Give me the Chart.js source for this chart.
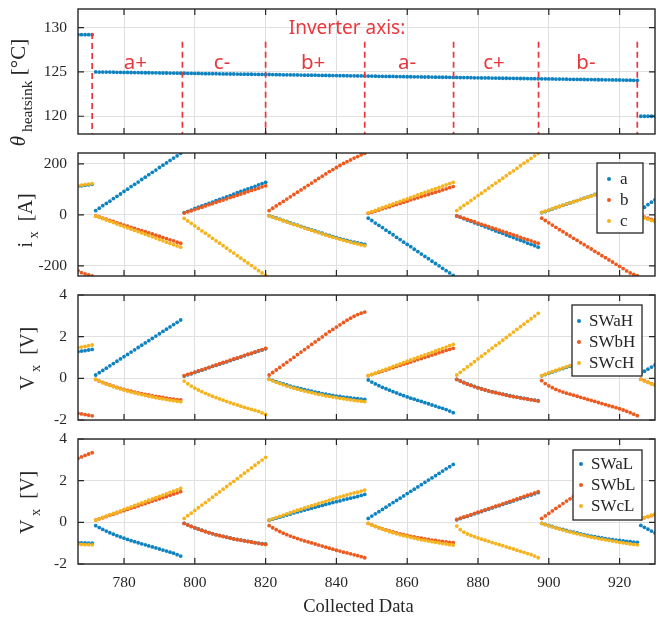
<!DOCTYPE html>
<html><head><meta charset="utf-8">
<script src="https://cdn.jsdelivr.net/npm/chart.js@4.4.0/dist/chart.umd.min.js"></script>
<style>
html,body{margin:0;padding:0;background:#fff;}
#wrap{position:relative;width:660px;height:620px;overflow:hidden;background:#fff;}
#wrap canvas{position:absolute;left:0;}
</style></head><body>
<div id="wrap">
<canvas id="c1" width="660" height="152" style="top:0px"></canvas>
<canvas id="c2" width="660" height="143" style="top:143px"></canvas>
<canvas id="c3" width="660" height="145" style="top:285px"></canvas>
<canvas id="c4" width="660" height="191" style="top:429px"></canvas>
</div>
<script>
// ---------------- DATA ----------------
const xStart = 767, xEnd = 930;
const collected = Array.from({length: xEnd - xStart + 1}, (_, i) => xStart + i);
const xTicks = [780, 800, 820, 840, 860, 880, 900, 920];
const tempTicks = [120, 125, 130];
const currentTicks = [-200, 0, 200];
const voltTicks = [-2, 0, 2, 4];

// inverter switching instants (dashed lines) and sector names
const switchX = [771, 796.5, 820, 848, 873.1, 897.1, 925];
const sectorNames = ['a+', 'c-', 'b+', 'a-', 'c+', 'b-'];

const phaseNames = ['a', 'b', 'c'];
const highNames = ['SWaH', 'SWbH', 'SWcH'];
const lowNames = ['SWaL', 'SWbL', 'SWcL'];

const tempHeatsink = [
 129.2,129.2,129.2,129.2,129.2,
 125.00,124.99,124.99,124.98,124.98,124.97,124.96,124.96,124.95,124.95,124.94,124.93,124.93,124.92,124.91,124.91,124.90,124.90,124.89,124.88,124.88,124.87,124.87,124.86,124.85,
 124.85,124.84,124.84,124.83,124.83,124.82,124.81,124.81,124.80,124.80,124.79,124.78,124.78,124.77,124.77,124.76,124.75,124.75,124.74,124.74,124.73,124.72,124.72,124.71,
 124.71,124.70,124.69,124.69,124.68,124.68,124.67,124.66,124.66,124.65,124.64,124.64,124.63,124.63,124.62,124.61,124.61,124.60,124.59,124.59,124.58,124.58,124.57,124.56,124.56,124.55,124.55,124.54,
 124.53,124.53,124.52,124.51,124.51,124.50,124.50,124.49,124.48,124.48,124.47,124.46,124.46,124.45,124.45,124.44,124.43,124.43,124.42,124.41,124.41,124.40,124.40,124.39,124.38,
 124.38,124.37,124.36,124.36,124.35,124.34,124.34,124.33,124.33,124.32,124.31,124.31,124.30,124.29,124.29,124.28,124.28,124.27,124.26,124.26,124.25,124.24,124.24,124.23,
 124.22,124.22,124.21,124.21,124.20,124.19,124.19,124.18,124.17,124.17,124.16,124.16,124.15,124.14,124.14,124.13,124.12,124.12,124.11,124.11,124.10,124.09,124.09,124.08,124.07,124.07,124.06,124.06,
 120.0,120.0,120.0,120.0,120.0
];

const currentA = [
 112,114,116,118,120,
 17,26,36,45,54,64,73,82,92,101,111,120,129,139,148,158,167,176,186,195,204,214,223,232,242,
 9,14,19,25,30,35,40,45,50,56,61,66,71,76,81,87,92,97,102,107,112,118,123,128,
 -3,-8,-12,-17,-22,-26,-31,-36,-40,-45,-50,-54,-59,-63,-68,-72,-77,-81,-85,-89,-93,-97,-100,-104,-107,-110,-113,-116,
 -13,-22,-32,-41,-50,-60,-69,-78,-88,-97,-107,-116,-125,-135,-144,-154,-163,-172,-182,-191,-200,-210,-219,-228,-238,
 -4,-9,-15,-20,-25,-31,-36,-41,-47,-52,-57,-63,-68,-73,-79,-84,-89,-95,-100,-105,-111,-116,-121,-127,
 9,13,18,23,28,33,37,42,47,52,56,61,66,70,75,80,84,89,93,98,102,107,111,116,120,124,128,132,
 20,30,40,50,59
];
const currentB = [
 -219,-227,-232,-236,-240,
 -4,-8,-13,-17,-22,-26,-31,-35,-40,-44,-49,-53,-58,-62,-66,-71,-75,-80,-84,-89,-93,-98,-102,-107,-111,
 7,12,16,21,26,30,35,40,44,49,54,58,63,68,72,77,82,86,91,96,100,105,110,114,
 17,26,35,44,53,62,71,80,89,98,107,116,125,134,143,152,161,170,178,186,194,202,209,216,223,229,236,242,
 6,10,15,19,24,28,32,37,41,45,50,54,59,63,67,72,76,80,85,89,93,98,102,107,111,
 -4,-9,-13,-18,-23,-27,-32,-37,-41,-46,-51,-55,-60,-65,-69,-74,-79,-83,-88,-93,-97,-102,-107,-111,
 -13,-22,-31,-40,-49,-58,-66,-75,-83,-92,-100,-109,-117,-126,-134,-143,-151,-160,-168,-177,-185,-194,-202,-211,-220,-228,-234,-239,
 -4,-9,-13,-18,-22
];
const currentC = [
 115,117,119,121,123,
 -5,-10,-15,-20,-25,-30,-36,-41,-46,-51,-56,-61,-66,-71,-76,-81,-86,-91,-97,-102,-107,-112,-117,-122,-127,
 -14,-24,-33,-43,-53,-63,-72,-82,-92,-102,-111,-121,-131,-141,-150,-160,-170,-180,-189,-199,-209,-219,-228,-238,
 -4,-9,-14,-18,-23,-28,-33,-38,-42,-47,-52,-56,-61,-66,-70,-75,-79,-84,-88,-92,-96,-100,-104,-107,-111,-114,-118,-121,
 8,13,18,23,28,33,38,43,48,53,58,63,68,73,78,83,88,93,98,103,108,113,118,123,128,
 17,27,37,46,56,66,76,85,95,105,115,125,134,144,154,164,173,183,193,203,212,222,232,242,
 10,15,19,24,29,33,38,43,47,52,56,61,65,70,74,79,83,87,91,95,99,103,107,111,114,117,120,123,
 -7,-12,-17,-22,-27
];

const voltAH = [
 1.28,1.31,1.33,1.36,1.39,
 0.16,0.27,0.38,0.49,0.60,0.71,0.82,0.93,1.04,1.15,1.26,1.37,1.48,1.59,1.70,1.81,1.92,2.03,2.14,2.25,2.36,2.47,2.58,2.69,2.80,
 0.11,0.17,0.22,0.28,0.34,0.39,0.45,0.51,0.57,0.62,0.68,0.74,0.79,0.85,0.91,0.96,1.02,1.08,1.14,1.19,1.25,1.31,1.36,1.42,
 -0.04,-0.10,-0.16,-0.22,-0.27,-0.32,-0.37,-0.42,-0.46,-0.50,-0.54,-0.58,-0.62,-0.66,-0.69,-0.73,-0.76,-0.79,-0.82,-0.85,-0.87,-0.90,-0.92,-0.94,-0.96,-0.98,-1.00,-1.01,
 -0.08,-0.18,-0.27,-0.35,-0.43,-0.50,-0.57,-0.64,-0.70,-0.77,-0.83,-0.89,-0.95,-1.00,-1.06,-1.11,-1.17,-1.22,-1.28,-1.33,-1.39,-1.44,-1.50,-1.57,-1.65,
 -0.05,-0.12,-0.20,-0.27,-0.33,-0.39,-0.45,-0.50,-0.55,-0.60,-0.64,-0.68,-0.72,-0.76,-0.80,-0.83,-0.87,-0.90,-0.93,-0.96,-0.99,-1.02,-1.05,-1.07,
 0.12,0.18,0.24,0.30,0.36,0.42,0.47,0.53,0.58,0.63,0.68,0.73,0.78,0.82,0.87,0.91,0.96,1.00,1.04,1.08,1.12,1.16,1.20,1.23,1.27,1.31,1.34,1.38,
 0.24,0.34,0.44,0.54,0.64
];
const voltBH = [
 -1.68,-1.71,-1.74,-1.77,-1.80,
 -0.05,-0.13,-0.20,-0.26,-0.32,-0.38,-0.43,-0.48,-0.53,-0.58,-0.62,-0.66,-0.70,-0.74,-0.77,-0.80,-0.84,-0.87,-0.89,-0.92,-0.95,-0.97,-1.00,-1.02,-1.04,
 0.13,0.19,0.24,0.30,0.36,0.41,0.47,0.53,0.59,0.64,0.70,0.76,0.81,0.87,0.93,0.98,1.04,1.10,1.16,1.21,1.27,1.33,1.38,1.44,
 0.16,0.28,0.40,0.52,0.65,0.77,0.89,1.01,1.14,1.26,1.38,1.50,1.63,1.75,1.87,1.99,2.12,2.24,2.35,2.46,2.57,2.68,2.79,2.89,2.98,3.06,3.13,3.18,
 0.13,0.18,0.24,0.29,0.35,0.40,0.46,0.51,0.57,0.62,0.68,0.73,0.79,0.84,0.90,0.95,1.01,1.06,1.12,1.17,1.23,1.28,1.34,1.39,1.44,
 -0.05,-0.13,-0.21,-0.28,-0.34,-0.40,-0.46,-0.51,-0.56,-0.61,-0.65,-0.69,-0.73,-0.77,-0.81,-0.85,-0.88,-0.91,-0.94,-0.97,-1.00,-1.03,-1.06,-1.09,
 -0.11,-0.25,-0.36,-0.45,-0.53,-0.60,-0.66,-0.71,-0.76,-0.81,-0.86,-0.91,-0.96,-1.01,-1.06,-1.11,-1.16,-1.21,-1.26,-1.31,-1.36,-1.41,-1.46,-1.52,-1.58,-1.65,-1.72,-1.79,
 -0.04,-0.11,-0.18,-0.25,-0.31
];
const voltCH = [
 1.47,1.50,1.53,1.57,1.60,
 -0.05,-0.13,-0.21,-0.28,-0.34,-0.40,-0.46,-0.51,-0.56,-0.61,-0.66,-0.70,-0.74,-0.78,-0.82,-0.86,-0.89,-0.93,-0.96,-0.99,-1.02,-1.05,-1.07,-1.10,-1.12,
 -0.13,-0.26,-0.37,-0.47,-0.56,-0.64,-0.72,-0.79,-0.86,-0.93,-0.99,-1.05,-1.11,-1.17,-1.23,-1.28,-1.34,-1.39,-1.44,-1.49,-1.54,-1.59,-1.66,-1.73,
 -0.05,-0.12,-0.19,-0.25,-0.31,-0.37,-0.42,-0.47,-0.52,-0.57,-0.61,-0.65,-0.69,-0.73,-0.77,-0.80,-0.84,-0.87,-0.90,-0.93,-0.96,-0.98,-1.01,-1.03,-1.06,-1.08,-1.10,-1.12,
 0.13,0.19,0.25,0.32,0.38,0.44,0.50,0.57,0.63,0.69,0.75,0.82,0.88,0.94,1.00,1.07,1.13,1.19,1.25,1.32,1.38,1.44,1.50,1.57,1.63,
 0.16,0.29,0.42,0.55,0.67,0.80,0.93,1.06,1.19,1.32,1.45,1.58,1.70,1.83,1.96,2.09,2.22,2.35,2.48,2.60,2.73,2.86,2.99,3.12,
 0.13,0.20,0.26,0.32,0.38,0.44,0.50,0.56,0.61,0.66,0.71,0.76,0.81,0.86,0.91,0.96,1.00,1.05,1.09,1.13,1.17,1.21,1.25,1.29,1.33,1.37,1.41,1.45,
 -0.05,-0.13,-0.20,-0.27,-0.33
];

const voltAL = [
 -0.98,-0.99,-0.99,-1.00,-1.00,
 -0.16,-0.25,-0.34,-0.42,-0.50,-0.57,-0.64,-0.70,-0.76,-0.82,-0.88,-0.93,-0.98,-1.03,-1.08,-1.13,-1.18,-1.23,-1.28,-1.33,-1.38,-1.43,-1.48,-1.55,-1.62,
 -0.05,-0.12,-0.19,-0.26,-0.32,-0.38,-0.44,-0.49,-0.54,-0.59,-0.63,-0.67,-0.71,-0.75,-0.79,-0.82,-0.85,-0.88,-0.91,-0.94,-0.97,-1.00,-1.02,-1.04,
 0.10,0.15,0.20,0.25,0.30,0.35,0.40,0.45,0.50,0.54,0.59,0.63,0.68,0.72,0.77,0.81,0.86,0.90,0.95,0.99,1.03,1.08,1.12,1.16,1.20,1.24,1.29,1.34,
 0.19,0.30,0.41,0.51,0.62,0.73,0.84,0.95,1.05,1.16,1.27,1.38,1.49,1.59,1.70,1.81,1.92,2.03,2.13,2.24,2.35,2.46,2.57,2.67,2.78,
 0.12,0.18,0.24,0.29,0.35,0.41,0.46,0.52,0.58,0.63,0.69,0.75,0.80,0.86,0.92,0.97,1.03,1.09,1.14,1.20,1.26,1.31,1.37,1.43,
 -0.05,-0.10,-0.15,-0.20,-0.25,-0.30,-0.34,-0.39,-0.43,-0.47,-0.51,-0.55,-0.59,-0.63,-0.66,-0.69,-0.72,-0.75,-0.78,-0.81,-0.83,-0.85,-0.87,-0.89,-0.91,-0.93,-0.95,-0.96,
 -0.15,-0.24,-0.33,-0.42,-0.51
];
const voltBL = [
 3.07,3.14,3.21,3.28,3.34,
 0.11,0.17,0.22,0.28,0.34,0.39,0.45,0.51,0.56,0.62,0.68,0.73,0.79,0.85,0.90,0.96,1.02,1.07,1.13,1.19,1.24,1.30,1.36,1.41,1.47,
 -0.05,-0.13,-0.20,-0.27,-0.33,-0.39,-0.45,-0.50,-0.55,-0.60,-0.64,-0.68,-0.72,-0.76,-0.80,-0.83,-0.86,-0.89,-0.92,-0.95,-0.98,-1.01,-1.04,-1.06,
 -0.16,-0.26,-0.35,-0.44,-0.52,-0.59,-0.66,-0.72,-0.78,-0.84,-0.89,-0.94,-0.99,-1.04,-1.09,-1.14,-1.19,-1.24,-1.29,-1.34,-1.38,-1.43,-1.47,-1.51,-1.56,-1.60,-1.65,-1.70,
 -0.05,-0.12,-0.19,-0.25,-0.31,-0.36,-0.41,-0.46,-0.51,-0.55,-0.59,-0.63,-0.67,-0.70,-0.73,-0.76,-0.79,-0.82,-0.85,-0.87,-0.90,-0.92,-0.94,-0.96,-0.98,
 0.14,0.20,0.26,0.31,0.37,0.43,0.49,0.54,0.60,0.66,0.72,0.78,0.83,0.89,0.95,1.01,1.06,1.12,1.18,1.24,1.30,1.35,1.41,1.47,
 0.19,0.31,0.43,0.55,0.67,0.78,0.90,1.02,1.13,1.25,1.36,1.48,1.59,1.70,1.81,1.92,2.03,2.14,2.25,2.36,2.47,2.57,2.67,2.77,2.87,2.96,3.05,3.14,
 0.17,0.22,0.27,0.32,0.37
];
const voltCL = [
 -1.05,-1.06,-1.07,-1.07,-1.08,
 0.11,0.17,0.24,0.30,0.36,0.43,0.49,0.55,0.62,0.68,0.74,0.81,0.87,0.93,0.99,1.06,1.12,1.18,1.25,1.31,1.37,1.44,1.50,1.56,1.63,
 0.19,0.32,0.44,0.57,0.70,0.83,0.95,1.08,1.21,1.34,1.46,1.59,1.72,1.85,1.97,2.10,2.23,2.36,2.48,2.61,2.74,2.87,2.99,3.12,
 0.11,0.17,0.23,0.29,0.35,0.41,0.46,0.52,0.58,0.63,0.69,0.74,0.80,0.85,0.91,0.96,1.01,1.07,1.12,1.17,1.22,1.27,1.32,1.37,1.41,1.45,1.50,1.55,
 -0.05,-0.13,-0.20,-0.27,-0.33,-0.39,-0.45,-0.50,-0.55,-0.60,-0.64,-0.68,-0.72,-0.76,-0.80,-0.84,-0.87,-0.90,-0.93,-0.96,-0.99,-1.02,-1.04,-1.07,-1.09,
 -0.18,-0.35,-0.47,-0.56,-0.63,-0.69,-0.75,-0.81,-0.86,-0.91,-0.97,-1.02,-1.07,-1.12,-1.18,-1.23,-1.28,-1.34,-1.39,-1.44,-1.50,-1.55,-1.62,-1.70,
 -0.05,-0.11,-0.17,-0.22,-0.27,-0.32,-0.37,-0.42,-0.46,-0.51,-0.55,-0.59,-0.63,-0.67,-0.71,-0.74,-0.78,-0.81,-0.84,-0.87,-0.90,-0.93,-0.96,-0.99,-1.01,-1.04,-1.06,-1.08,
 0.18,0.23,0.29,0.34,0.40
];

// ---------------- STYLE ----------------
const BLUE = '#0f82c0', ORANGE = '#ec5a1f', YELLOW = '#f5b41f';
const INK = '#262626', GRID = '#e0e0e0', RED = '#e8373d';
const SERIF = '"Liberation Serif", "Times New Roman", serif';
Chart.defaults.font.family = SERIF;
Chart.defaults.color = INK;

[tempHeatsink, currentA, currentB, currentC, voltAH, voltBH, voltCH, voltAL, voltBL, voltCL].forEach((a, k) => {
  if (a.length !== collected.length) console.error('series ' + k + ' length ' + a.length);
});

// ---------------- PLUGINS ----------------
function framePlugin(tickLen) {
  return {
    id: 'frame',
    afterDraw(chart) {
      const ctx = chart.ctx, a = chart.chartArea;
      const xs = chart.scales.x, ys = chart.scales.y;
      ctx.save();
      ctx.strokeStyle = INK; ctx.lineWidth = 1.4;
      ctx.strokeRect(a.left, a.top, a.right - a.left, a.bottom - a.top);
      ctx.lineWidth = 1.2;
      ctx.beginPath();
      xs.ticks.forEach(t => {
        const px = xs.getPixelForValue(t.value);
        ctx.moveTo(px, a.top); ctx.lineTo(px, a.top + tickLen);
        ctx.moveTo(px, a.bottom); ctx.lineTo(px, a.bottom - tickLen);
      });
      ys.ticks.forEach(t => {
        const py = ys.getPixelForValue(t.value);
        ctx.moveTo(a.left, py); ctx.lineTo(a.left + tickLen, py);
        ctx.moveTo(a.right, py); ctx.lineTo(a.right - tickLen, py);
      });
      ctx.stroke();
      ctx.restore();
    }
  };
}

function yTitlePlugin(parts, baseX, dy, subShift) {
  return {
    id: 'yTitle',
    afterDraw(chart) {
      const ctx = chart.ctx, a = chart.chartArea;
      ctx.save();
      let total = 0;
      const items = parts.map(p => {
        const font = (p.italic ? 'italic ' : '') + p.size + 'px ' + SERIF;
        ctx.font = font;
        const w = ctx.measureText(p.text).width;
        total += w;
        return {text: p.text, sub: p.sub, font, w};
      });
      ctx.translate(baseX, (a.top + a.bottom) / 2 + dy);
      ctx.rotate(-Math.PI / 2);
      ctx.fillStyle = INK; ctx.textAlign = 'left'; ctx.textBaseline = 'alphabetic';
      let pos = -total / 2;
      items.forEach(it => {
        ctx.font = it.font;
        ctx.fillText(it.text, pos, it.sub ? subShift : 0);
        pos += it.w;
      });
      ctx.restore();
    }
  };
}

function boxLegendPlugin(names, colors, box) {
  return {
    id: 'boxLegend',
    afterDatasetsDraw(chart) {
      const ctx = chart.ctx, a = chart.chartArea;
      const x = a.right - box.right - box.w, y = a.top + box.top;
      ctx.save();
      ctx.fillStyle = '#fff';
      ctx.fillRect(x, y, box.w, box.h);
      ctx.strokeStyle = INK; ctx.lineWidth = 1.3;
      ctx.strokeRect(x, y, box.w, box.h);
      ctx.font = '17px ' + SERIF;
      ctx.textAlign = 'left'; ctx.textBaseline = 'middle';
      names.forEach((n, i) => {
        const ry = y + box.row0 + i * box.gap;
        ctx.fillStyle = colors[i];
        ctx.beginPath(); ctx.arc(x + box.dot, ry, 2, 0, Math.PI * 2); ctx.fill();
        ctx.fillStyle = INK;
        ctx.fillText(n, x + box.text, ry + 1);
      });
      ctx.restore();
    }
  };
}

const inverterPlugin = {
  id: 'inverter',
  afterDatasetsDraw(chart) {
    const ctx = chart.ctx, a = chart.chartArea;
    const xs = chart.scales.x, ys = chart.scales.y;
    ctx.save();
    ctx.beginPath(); ctx.rect(a.left, a.top, a.right - a.left, a.bottom - a.top); ctx.clip();
    ctx.strokeStyle = RED; ctx.lineWidth = 1.7; ctx.setLineDash([6, 4]);
    switchX.forEach((sx, i) => {
      const px = xs.getPixelForValue(sx);
      const top = ys.getPixelForValue(i === 0 ? 129.4 : 128.4);
      ctx.beginPath(); ctx.moveTo(px, top); ctx.lineTo(px, a.bottom); ctx.stroke();
    });
    ctx.setLineDash([]);
    ctx.fillStyle = RED; ctx.textAlign = 'center'; ctx.textBaseline = 'alphabetic';
    ctx.font = '19px "Noto Sans", "Open Sans", sans-serif';
    ctx.fillText('Inverter axis:', xs.getPixelForValue(843), ys.getPixelForValue(129.3));
    ctx.font = '20.5px "Noto Sans", "Open Sans", sans-serif';
    sectorNames.forEach((s, i) => {
      const mid = (switchX[i] + switchX[i + 1]) / 2;
      ctx.fillText(s, xs.getPixelForValue(mid) - 2, ys.getPixelForValue(125.35));
    });
    ctx.restore();
  }
};

const xTitlePlugin = {
  id: 'xTitle',
  afterDraw(chart) {
    const ctx = chart.ctx, a = chart.chartArea;
    ctx.save();
    ctx.fillStyle = INK; ctx.textAlign = 'center'; ctx.textBaseline = 'middle';
    ctx.font = '18.5px ' + SERIF;
    ctx.fillText('Collected Data', (a.left + a.right) / 2 - 8, a.bottom + 43);
    ctx.restore();
  }
};

// ---------------- PANELS ----------------
function makePanel(id, p) {
  const datasets = p.series.map((s, k) => ({
    label: s.name,
    data: collected.map((x, i) => ({x, y: s.values[i]})),
    backgroundColor: s.color,
    borderWidth: 0,
    pointRadius: 1.9,
    pointHoverRadius: 1.9,
    showLine: false,
    order: p.series.length - k
  }));
  const plugins = [framePlugin(6), yTitlePlugin(p.title, p.titleX, p.titleDy, p.subShift)];
  if (p.legend) plugins.push(boxLegendPlugin(p.series.map(s => s.name), p.series.map(s => s.color), p.legend));
  (p.extra || []).forEach(e => plugins.push(e));
  return new Chart(document.getElementById(id), {
    type: 'scatter',
    data: {datasets},
    options: {
      responsive: false, animation: false, events: [],
      layout: {padding: {left: 0, right: 5, top: p.padTop, bottom: p.padBottom}},
      plugins: {legend: {display: false}, tooltip: {enabled: false}},
      scales: {
        x: {
          type: 'linear', min: xStart, max: xEnd,
          afterBuildTicks: s => { s.ticks = xTicks.map(v => ({value: v})); },
          grid: {color: GRID, lineWidth: 1, drawTicks: false},
          border: {display: false},
          ticks: {display: p.showX, padding: 10, font: {size: 15.5}, color: INK, callback: v => String(v)},
          afterFit: s => { s.height = p.xHeight; s.paddingLeft = 0; s.paddingRight = 0; }
        },
        y: {
          type: 'linear', min: p.yMin, max: p.yMax,
          afterBuildTicks: s => { s.ticks = p.yTicks.map(v => ({value: v})); },
          grid: {color: GRID, lineWidth: 1, drawTicks: false},
          border: {display: false},
          ticks: {padding: 11, font: {size: 15.5}, color: INK, callback: v => String(v)},
          afterFit: s => { s.width = 78; s.paddingTop = 0; s.paddingBottom = 0; }
        }
      }
    },
    plugins
  });
}

makePanel('c1', {
  series: [{name: 'θheatsink', values: tempHeatsink, color: BLUE}],
  yMin: 118, yMax: 132.1, yTicks: tempTicks,
  padTop: 9, padBottom: 18, xHeight: 0, showX: false,
  title: [{text: 'θ', size: 21, italic: true}, {text: ' heatsink', size: 15.5, sub: true}, {text: ' [°C]', size: 21}],
  titleX: 25, titleDy: 21, subShift: 7,
  extra: [inverterPlugin]
});

makePanel('c2', {
  series: [
    {name: phaseNames[0], values: currentA, color: BLUE},
    {name: phaseNames[1], values: currentB, color: ORANGE},
    {name: phaseNames[2], values: currentC, color: YELLOW}
  ],
  yMin: -240, yMax: 243, yTicks: currentTicks,
  padTop: 10, padBottom: 10, xHeight: 0, showX: false,
  title: [{text: 'i', size: 20}, {text: ' x', size: 14.5, sub: true}, {text: '  [A]', size: 20}],
  titleX: 32, titleDy: 6, subShift: 6,
  legend: {w: 46, h: 70, right: 12, top: 10, row0: 16, gap: 21, dot: 12, text: 23}
});

makePanel('c3', {
  series: [
    {name: highNames[0], values: voltAH, color: BLUE},
    {name: highNames[1], values: voltBH, color: ORANGE},
    {name: highNames[2], values: voltCH, color: YELLOW}
  ],
  yMin: -2, yMax: 4, yTicks: voltTicks,
  padTop: 10, padBottom: 10, xHeight: 0, showX: false,
  title: [{text: 'V', size: 20}, {text: ' x', size: 14.5, sub: true}, {text: '  [V]', size: 20}],
  titleX: 34, titleDy: 1, subShift: 6,
  legend: {w: 70, h: 71, right: 13, top: 10, row0: 16, gap: 21, dot: 7, text: 17}
});

makePanel('c4', {
  series: [
    {name: lowNames[0], values: voltAL, color: BLUE},
    {name: lowNames[1], values: voltBL, color: ORANGE},
    {name: lowNames[2], values: voltCL, color: YELLOW}
  ],
  yMin: -2, yMax: 4, yTicks: voltTicks,
  padTop: 10, padBottom: 0, xHeight: 56, showX: true,
  title: [{text: 'V', size: 20}, {text: ' x', size: 14.5, sub: true}, {text: '  [V]', size: 20}],
  titleX: 34, titleDy: 1, subShift: 6,
  legend: {w: 69, h: 70, right: 13, top: 11, row0: 14, gap: 21, dot: 8, text: 18},
  extra: [xTitlePlugin]
});
</script>
</body></html>
